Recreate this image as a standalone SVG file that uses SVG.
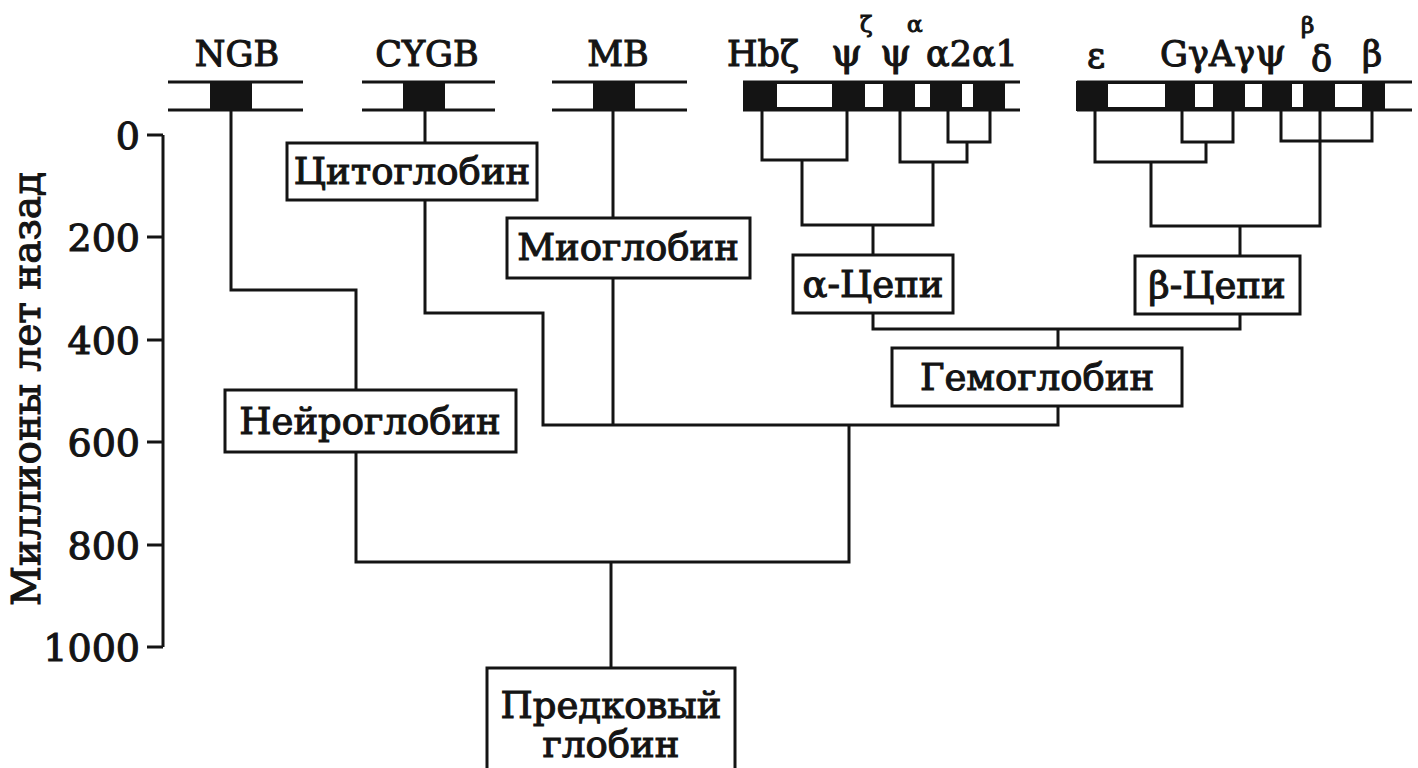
<svg xmlns="http://www.w3.org/2000/svg" width="1418" height="768" viewBox="0 0 1418 768">
<style>
.bg{fill:#fff}
.t{font-family:"DejaVu Serif","Liberation Serif",serif;fill:#141414;stroke:#141414;stroke-width:1.1}
.lbl{font-size:37px;text-anchor:middle}
.gene{font-size:35px}
.psi{font-size:40px}
.sup{font-size:23px}
.ax{font-size:38px;text-anchor:end}
.box{fill:#fff;stroke:#141414;stroke-width:3}
.ln{fill:none;stroke:#141414;stroke-width:3}
.blk{fill:#141414}
.wht{fill:#fff}
</style>
<rect class="bg" x="0" y="0" width="1418" height="768"/>

<!-- axis -->
<g id="axis">
  <path class="ln" d="M163 135V647M147 135H163M147 237H163M147 340H163M147 442H163M147 545H163M147 647H163"/>
  <text class="t ax" x="140" y="149">0</text>
  <text class="t ax" x="140" y="251">200</text>
  <text class="t ax" x="140" y="354">400</text>
  <text class="t ax" x="140" y="456">600</text>
  <text class="t ax" x="140" y="559">800</text>
  <text class="t ax" x="140" y="661">1000</text>
  <text class="t" font-size="39" text-anchor="middle" transform="translate(40,389) rotate(-90)">Миллионы лет назад</text>
</g>

<!-- chromosomes -->
<g id="chr-ngb">
  <path class="ln" d="M168 82H303M168 110H303"/>
  <rect class="blk" x="210" y="82" width="42" height="28"/>
  <text class="t gene" x="237" y="66" text-anchor="middle">NGB</text>
</g>
<g id="chr-cygb">
  <path class="ln" d="M362 82H495M362 110H495"/>
  <rect class="blk" x="403" y="82" width="42" height="28"/>
  <text class="t gene" x="427" y="66" text-anchor="middle">CYGB</text>
</g>
<g id="chr-mb">
  <path class="ln" d="M552 82H687M552 110H687"/>
  <rect class="blk" x="593" y="82" width="42" height="28"/>
  <text class="t gene" x="618" y="66" text-anchor="middle">MB</text>
</g>
<g id="chr-alpha">
  <path class="ln" d="M743 82H1020M743 110H1020"/>
  <rect class="blk" x="743" y="81" width="262" height="30"/>
  <rect class="wht" x="777" y="84" width="55" height="23"/>
  <rect class="wht" x="865" y="84" width="18" height="23"/>
  <rect class="wht" x="915" y="84" width="15" height="23"/>
  <rect class="wht" x="962" y="84" width="11" height="23"/>
  <text class="t gene" x="727" y="66">Hbζ</text>
  <text class="t psi" x="831" y="66">ψ</text>
  <text class="t sup" x="860" y="32">ζ</text>
  <text class="t psi" x="880" y="66">ψ</text>
  <text class="t sup" x="907" y="32">α</text>
  <text class="t gene" x="926" y="66" font-size="37">α2α1</text>
</g>
<g id="chr-beta">
  <path class="ln" d="M1077 82H1412M1077 110H1412"/>
  <rect class="blk" x="1076" y="81" width="309" height="30"/>
  <rect class="wht" x="1108" y="84" width="57" height="23"/>
  <rect class="wht" x="1195" y="84" width="18" height="23"/>
  <rect class="wht" x="1245" y="84" width="17" height="23"/>
  <rect class="wht" x="1292" y="84" width="11" height="23"/>
  <rect class="wht" x="1335" y="84" width="27" height="23"/>
  <text class="t gene" x="1087" y="68">ε</text>
  <text class="t gene" x="1160" y="66">GγAγ<tspan class="psi">ψ</tspan></text>
  <text class="t sup" x="1301" y="33">β</text>
  <text class="t gene" x="1311" y="71">δ</text>
  <text class="t gene" x="1362" y="66">β</text>
</g>

<!-- connectors -->
<g id="connectors">
  <path class="ln" d="M231 110V290H356V390"/>
  <path class="ln" d="M356 452V562H849V425"/>
  <path class="ln" d="M611 562V668"/>
  <path class="ln" d="M425 110V143M425 200V313H543V425H1058V406"/>
  <path class="ln" d="M613 110V218M613 278V425"/>
  <path class="ln" d="M762 110V160H847V110M900 110V162H967V142M948 110V142H990V110M802 160V225H933V162M873 225V255M873 313V329H1240V314M1058 329V348"/>
  <path class="ln" d="M1095 110V162H1206V142M1182 110V142H1233V110M1151 162V226H1320V110M1281 110V141H1372V110M1240 226V256"/>
</g>

<!-- nodes -->
<g id="cytoglobin">
  <rect class="box" x="287" y="143" width="250" height="57"/>
  <text class="t lbl" x="412" y="184">Цитоглобин</text>
</g>
<g id="myoglobin">
  <rect class="box" x="507" y="218" width="243" height="60"/>
  <text class="t lbl" x="628" y="260">Миоглобин</text>
</g>
<g id="alpha-chains">
  <rect class="box" x="793" y="255" width="160" height="58"/>
  <text class="t lbl" x="873" y="297">α-Цепи</text>
</g>
<g id="beta-chains">
  <rect class="box" x="1135" y="256" width="165" height="58"/>
  <text class="t lbl" x="1217" y="298">β-Цепи</text>
</g>
<g id="hemoglobin">
  <rect class="box" x="892" y="348" width="290" height="58"/>
  <text class="t lbl" x="1037" y="390">Гемоглобин</text>
</g>
<g id="neuroglobin">
  <rect class="box" x="225" y="390" width="291" height="62"/>
  <text class="t lbl" x="370" y="434">Нейроглобин</text>
</g>
<g id="ancestral">
  <rect class="box" x="487" y="668" width="248" height="110"/>
  <text class="t lbl" x="611" y="718">Предковый</text>
  <text class="t lbl" x="611" y="757">глобин</text>
</g>
</svg>
